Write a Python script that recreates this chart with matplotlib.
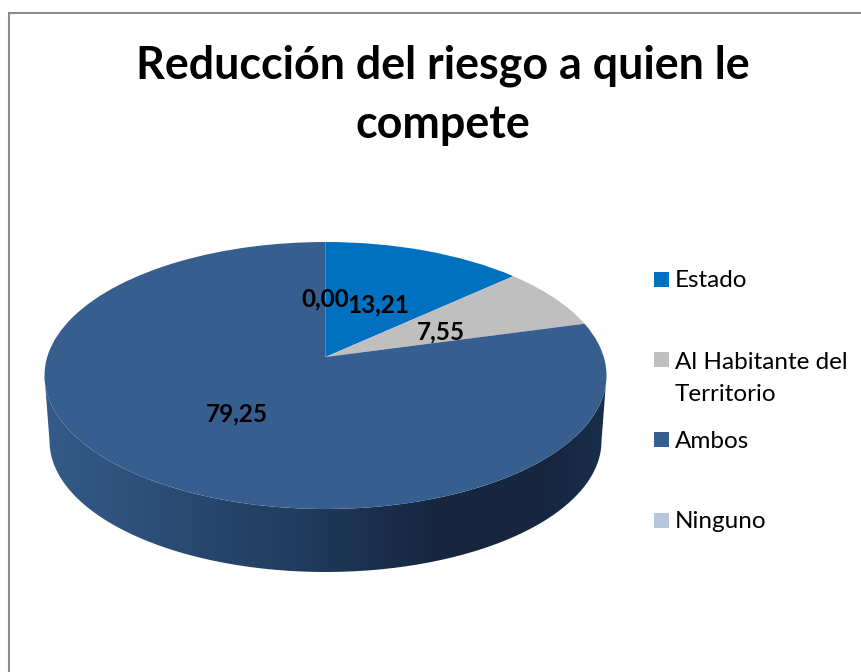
import numpy as np
import matplotlib
matplotlib.use("Agg")
import matplotlib.pyplot as plt
from matplotlib.patches import PathPatch, Rectangle
from matplotlib.path import Path
from matplotlib.transforms import Transform
from matplotlib.colors import LinearSegmentedColormap

plt.rcParams['font.family'] = ['Lato', 'DejaVu Sans']

title = "Reducción del riesgo a quien le\ncompete"
categories = ["Estado", "Al Habitante del\nTerritorio", "Ambos", "Ninguno"]
values = [13.21, 7.55, 79.25, 0.00]
value_labels = ["13,21", "7,55", "79,25", "0,00"]
colors = ["#0070C0", "#BFBFBF", "#365E8F", "#B7C5DF"]

W, H = 862, 672
# top face of the pie, in pixels
cx, cy, rx, ry = 325.5, 375.5, 281, 133.5
apex_y = 357
# bottom rim of the side wall
bot_cy, bot_rx, bot_ry = 441, 276, 131


class Tilt(Transform):
    # perspective of the disc: its centre lands above the middle of the ellipse
    input_dims = output_dims = 2
    is_affine = False

    def __init__(self, c):
        super().__init__()
        self.c = c

    def transform_non_affine(self, xy):
        xy = np.asarray(xy, float)
        d = 1 + self.c * xy[:, 1]
        return np.column_stack([xy[:, 0] * np.sqrt(1 - self.c ** 2) / d,
                                (xy[:, 1] + self.c) / d])


fig = plt.figure(figsize=(W / 100, H / 100), dpi=100)

# page layer in pixel coordinates
bg = fig.add_axes([0, 0, 1, 1], zorder=0)
bg.set_xlim(0, W)
bg.set_ylim(H, 0)
bg.axis("off")
bg.plot([9.5, 9.5, W], [H, 13, 13], color="#8C8C8C", lw=1.5, solid_joinstyle="miter")

# side wall with its horizontal shading
t = np.linspace(0, np.pi, 200)
top_x, top_y = cx + rx * np.cos(t), cy + ry * np.sin(t)
low_x, low_y = cx + bot_rx * np.cos(t), bot_cy + bot_ry * np.sin(t)
wall = Path(np.column_stack([np.r_[top_x, low_x[::-1]], np.r_[top_y, low_y[::-1]]]))
shade = LinearSegmentedColormap.from_list("wall", [
    (0.00, "#355B8A"), (0.20, "#2C4D76"), (0.45, "#213C5E"),
    (0.70, "#16263F"), (0.90, "#16273F"), (1.00, "#1A2E4B")])
im = bg.imshow(np.linspace(0, 1, 256)[None, :], cmap=shade, aspect="auto",
               extent=(cx - rx, cx + rx, 600, 340), zorder=1)
im.set_clip_path(PathPatch(wall, transform=bg.transData))
bg.set_xlim(0, W)
bg.set_ylim(H, 0)

# top face
ax = fig.add_axes([(cx - rx) / W, 1 - (cy + ry) / H, 2 * rx / W, 2 * ry / H], zorder=1)
wedges, _ = ax.pie(values, colors=colors, startangle=90, counterclock=False, radius=1)
ax.set_aspect("auto")
ax.set_xlim(-1, 1)
ax.set_ylim(-1, 1)
tilt = Tilt((cy - apex_y) / ry) + ax.transData
for w in wedges:
    w.set_transform(tilt)
    w.set_clip_on(False)

# value labels
label_pos = [(378, 305), (441, 332), (237, 414), (325, 299)]
for txt, (x, y) in zip(value_labels, label_pos):
    fig.text(x / W, 1 - y / H, txt, ha="center", va="center", fontsize=17.5,
             fontweight="bold", color="black", zorder=5)

fig.text(443 / W, 1 - 95.5 / H, title, ha="center", va="center", fontsize=32.3,
         fontweight="bold", color="black", linespacing=1.5, zorder=5)

# legend
legend_y = [279.5, 359.5, 439.5, 520.5]
text_y = [280.5, 378.5, 441, 521.5]
for name, col, ys, ty in zip(categories, colors, legend_y, text_y):
    bg.add_patch(Rectangle((654, ys - 7.5), 15, 15, facecolor=col, edgecolor="none"))
    bg.text(675, ty, name, ha="left", va="center", fontsize=17.5, color="black", linespacing=1.65)

fig.savefig("out.png", dpi=100)
